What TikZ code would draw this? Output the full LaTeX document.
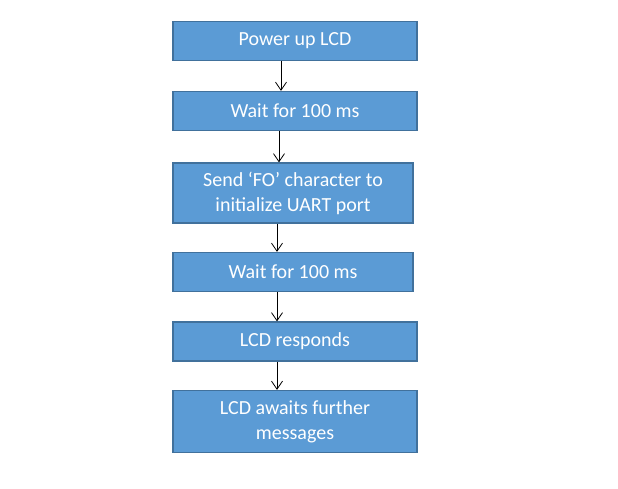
\documentclass[tikz,border=0pt]{standalone}
\usepackage{fontspec}
\setmainfont{Carlito}
\usetikzlibrary{arrows.meta}

\definecolor{azul}{HTML}{5B9BD5}
\definecolor{borde}{HTML}{41719C}

\begin{document}
\begin{tikzpicture}[x=1pt, y=1pt,
            caja/.style={rectangle, draw=borde, line width=1.3pt, fill=azul, text=white, align=center, font=\fontsize{20}{25}\selectfont, minimum width=244pt, minimum height=39pt, inner sep=0pt},
            flecha/.style={-{Straight Barb[length=8pt, width=11pt]}, line width=0.8pt}]

            \useasboundingbox (0,0) rectangle (618,-488);

            \node[caja] (power) at (295, -41) {Power up LCD};
            \node[caja] (wait1) at (295, -111) {Wait for 100 ms};
            \node[caja, minimum width=240pt, minimum height=60pt] (send) at (293, -193) {Send ‘FO’ character to\\initialize UART port};
            \node[caja, minimum width=240pt] (wait2) at (293, -272) {Wait for 100 ms};
            \node[caja] (resp) at (295, -341.5) {LCD responds};
            \node[caja, minimum height=62pt] (awaits) at (295, -421.5) {LCD awaits further\\messages};

            \draw[flecha] ([xshift=-14pt]power.south) -- ([xshift=-14pt]wait1.north);
            \draw[flecha] ([xshift=-16pt]wait1.south) -- ([xshift=-14pt]send.north);
            \draw[flecha] ([xshift=-16pt]send.south) -- ([xshift=-16pt]wait2.north);
            \draw[flecha] ([xshift=-16pt]wait2.south) -- ([xshift=-18pt]resp.north);
            \draw[flecha] ([xshift=-18pt]resp.south) -- ([xshift=-18pt]awaits.north);
        \end{tikzpicture}
\end{document}
